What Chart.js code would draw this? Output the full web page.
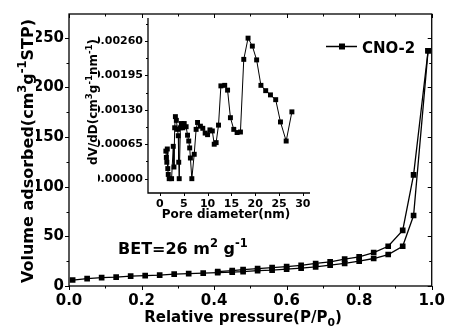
<!DOCTYPE html>
<html>
<head>
<meta charset="utf-8">
<script src="https://cdn.jsdelivr.net/npm/chart.js@4.4.1/dist/chart.umd.min.js"></script>
<style>
  html, body { margin: 0; padding: 0; background: #fff; }
  #wrap { position: relative; width: 451px; height: 332px; }
  #wrap canvas { position: absolute; left: 0; top: 0; }
</style>
</head>
<body>
<div id="wrap">
  <canvas id="main" width="451" height="332"></canvas>
  <canvas id="inset" width="451" height="332"></canvas>
</div>
<script>
const FONT = '"DejaVu Sans", "Liberation Sans", sans-serif';

// N2 isotherm: adsorption branch
const P_ADS = [0.01, 0.05, 0.09, 0.13, 0.17, 0.21, 0.25, 0.29, 0.33, 0.37, 0.41, 0.45, 0.48,
               0.52, 0.56, 0.60, 0.64, 0.68, 0.72, 0.76, 0.80, 0.84, 0.88, 0.92, 0.95, 0.99];
const V_ADS = [6, 7.5, 8.5, 9, 10, 10.5, 11, 12, 12.5, 13, 13.5, 14, 14.5,
               15.5, 16, 17, 18, 19.3, 21, 22.7, 25, 27.7, 31.7, 40, 71, 237];

// N2 isotherm: desorption branch
const P_DES = [0.99, 0.95, 0.92, 0.88, 0.84, 0.80, 0.76, 0.72, 0.68, 0.64, 0.60, 0.56, 0.52, 0.48, 0.45, 0.41];
const V_DES = [237, 112, 56, 40, 33.7, 29.3, 27, 24.3, 22.7, 20.7, 19.5, 18.5, 17.5, 16.5, 15.5, 14.5];

const X_TICKS = [0, 0.2, 0.4, 0.6, 0.8, 1.0];
const Y_TICKS = [0, 50, 100, 150, 200, 250];

// Pore size distribution (inset)
const PORE_D = [1.25, 1.35, 1.45, 1.55, 1.65, 1.75, 1.95, 2.45, 2.8, 2.95, 3.1, 3.25, 3.45, 3.7, 3.85, 3.95, 4.05,
                4.3, 4.5, 4.8, 5.1, 5.5, 5.8, 6.05, 6.25, 6.4, 6.7,
                7.2, 7.6, 7.9, 8.5, 9.0, 9.5, 10.0, 10.5, 11.0, 11.4, 11.8, 12.3,
                12.8, 13.6, 14.2, 14.8, 15.5, 16.2, 16.9, 17.6, 18.5, 19.4, 20.3,
                21.2, 22.2, 23.2, 24.3, 25.3, 26.5, 27.7];
const DVDD = [0.00052, 0.00040, 0.00031, 0.00056, 0.00019, 0.00008, 0.0, 0.0, 0.00061, 0.00022, 0.00096, 0.00117, 0.00110, 0.00093, 0.00081, 0.00031, 0.0,
              0.00096, 0.00104, 0.00096, 0.00104, 0.00098, 0.00082, 0.00071, 0.00058, 0.00039, 0.0,
              0.00046, 0.00093, 0.00106, 0.00099, 0.00095, 0.00086, 0.00083, 0.00092, 0.00090, 0.00065, 0.00068, 0.00101,
              0.00175, 0.00176, 0.00167, 0.00115, 0.00093, 0.00087, 0.00088, 0.00225, 0.00265, 0.00250, 0.00224,
              0.00176, 0.00166, 0.00158, 0.00149, 0.00107, 0.00071, 0.00126];

const INSET_X_TICKS = [0, 5, 10, 15, 20, 25, 30];
const INSET_Y_TICKS = [0, 0.00065, 0.00130, 0.00195, 0.00260];

const SERIES_NAME = 'CNO-2';

function pts(xs, ys) { return xs.map((x, i) => ({ x: x, y: ys[i] })); }
function mids(vals) {
  const out = [];
  for (let i = 0; i < vals.length - 1; i++) out.push((vals[i] + vals[i + 1]) / 2);
  return out;
}

// Text with superscripts / subscripts, optionally rotated to read bottom-to-top
function drawRich(ctx, segs, x, y, size, align, rotated) {
  ctx.save();
  ctx.translate(x, y);
  if (rotated) ctx.rotate(-Math.PI / 2);
  let w = 0;
  const parts = segs.map(s => {
    const fs = (s.sup || s.sub) ? size * 0.72 : size;
    ctx.font = 'bold ' + fs + 'px ' + FONT;
    const m = ctx.measureText(s.t).width;
    const dy = s.sup ? -size * 0.42 : (s.sub ? size * 0.25 : 0);
    w += m;
    return { t: s.t, fs: fs, dy: dy, w: m };
  });
  let cx = align === 'center' ? -w / 2 : 0;
  ctx.fillStyle = '#000';
  ctx.textAlign = 'left';
  ctx.textBaseline = 'alphabetic';
  for (const p of parts) {
    ctx.font = 'bold ' + p.fs + 'px ' + FONT;
    ctx.fillText(p.t, cx, p.dy);
    cx += p.w;
  }
  ctx.restore();
}

function vTicks(ctx, scale, values, xPos, len) {
  for (const v of values) {
    const py = Math.round(scale.getPixelForValue(v)) + 0.5;
    ctx.beginPath(); ctx.moveTo(xPos, py); ctx.lineTo(xPos + len, py); ctx.stroke();
  }
}
function hTicks(ctx, scale, values, yPos, len) {
  for (const v of values) {
    const px = Math.round(scale.getPixelForValue(v)) + 0.5;
    ctx.beginPath(); ctx.moveTo(px, yPos); ctx.lineTo(px, yPos + len); ctx.stroke();
  }
}

const MAJ = 4, MIN = 2.5;

const mainDecor = {
  id: 'mainDecor',
  afterDraw(chart) {
    const { ctx, chartArea: a, scales } = chart;
    const x = scales.x, y = scales.y;
    ctx.save();
    ctx.strokeStyle = '#000';
    ctx.lineWidth = 1.3;
    ctx.strokeRect(a.left, a.top, a.right - a.left, a.bottom - a.top);
    ctx.lineWidth = 1;
    const xMin = mids(X_TICKS), yMin = mids(Y_TICKS).concat([275]).filter(v => v <= y.max);
    // bottom & left: outward
    hTicks(ctx, x, X_TICKS, a.bottom, MAJ);
    hTicks(ctx, x, xMin, a.bottom, MIN);
    vTicks(ctx, y, Y_TICKS, a.left, -MAJ);
    vTicks(ctx, y, yMin, a.left, -MIN);
    // top & right: inward
    hTicks(ctx, x, X_TICKS, a.top, MAJ);
    hTicks(ctx, x, xMin, a.top, MIN);
    vTicks(ctx, y, Y_TICKS, a.right, -MAJ);
    vTicks(ctx, y, yMin, a.right, -MIN);
    ctx.restore();

    // axis titles
    drawRich(ctx, [{ t: 'Relative pressure(P/P' }, { t: '0', sub: true }, { t: ')' }], 243, 322, 15, 'center', false);
    drawRich(ctx, [{ t: 'Volume adsorbed(cm' }, { t: '3', sup: true }, { t: 'g' }, { t: '-1', sup: true }, { t: 'STP)' }],
             33, 151, 16, 'center', true);
    // surface area annotation
    drawRich(ctx, [{ t: 'BET=26 m' }, { t: '2', sup: true }, { t: ' g' }, { t: '-1', sup: true }], 118, 254, 16, 'left', false);

    // legend
    ctx.save();
    ctx.strokeStyle = '#000';
    ctx.lineWidth = 1.5;
    ctx.beginPath(); ctx.moveTo(326, 46.5); ctx.lineTo(357, 46.5); ctx.stroke();
    ctx.fillStyle = '#000';
    ctx.fillRect(339, 43.5, 6, 6);
    ctx.restore();
    drawRich(ctx, [{ t: SERIES_NAME }], 362, 53, 15, 'left', false);
  }
};

const insetDecor = {
  id: 'insetDecor',
  afterDraw(chart) {
    const { ctx, chartArea: a, scales } = chart;
    const x = scales.x, y = scales.y;
    ctx.save();
    ctx.strokeStyle = '#000';
    ctx.lineWidth = 1.3;
    ctx.beginPath();
    ctx.moveTo(a.left, a.top); ctx.lineTo(a.left, a.bottom); ctx.lineTo(a.right, a.bottom);
    ctx.stroke();
    ctx.lineWidth = 1;
    hTicks(ctx, x, INSET_X_TICKS, a.bottom, 3);
    vTicks(ctx, y, INSET_Y_TICKS, a.left, -3);
    vTicks(ctx, y, mids(INSET_Y_TICKS).concat([0.002925]), a.left, -2);
    ctx.restore();
    drawRich(ctx, [{ t: 'Pore diameter(nm)' }], 226, 218, 12, 'center', false);
    drawRich(ctx, [{ t: 'dV/dD(cm' }, { t: '3', sup: true }, { t: 'g' }, { t: '-1', sup: true },
                   { t: 'nm' }, { t: '-1', sup: true }, { t: ')' }], 97, 102, 12, 'center', true);
  }
};

const lineStyle = {
  showLine: true,
  borderColor: '#000',
  backgroundColor: '#000',
  pointStyle: 'rect',
  pointBackgroundColor: '#000',
  pointBorderColor: '#000',
  pointBorderWidth: 0,
  tension: 0
};

new Chart(document.getElementById('main'), {
  type: 'scatter',
  data: {
    datasets: [
      Object.assign({ label: SERIES_NAME, data: pts(P_ADS, V_ADS), borderWidth: 1.3, pointRadius: 4 }, lineStyle),
      Object.assign({ label: SERIES_NAME + ' desorption', data: pts(P_DES, V_DES), borderWidth: 1.3, pointRadius: 4 }, lineStyle)
    ]
  },
  options: {
    responsive: false,
    animation: false,
    devicePixelRatio: 1,
    layout: { padding: { left: 36, right: 15, top: 13, bottom: 21 } },
    plugins: { legend: { display: false }, tooltip: { enabled: false } },
    scales: {
      x: {
        type: 'linear', min: 0, max: 1,
        afterBuildTicks: s => { s.ticks = X_TICKS.map(v => ({ value: v })); },
        afterFit: s => { s.height = 25; },
        grid: { display: false, drawTicks: false },
        border: { display: false },
        ticks: { color: '#000', padding: 6, maxRotation: 0, autoSkip: false,
                 font: { family: FONT, weight: 'bold', size: 15 },
                 callback: v => Number(v).toFixed(1) }
      },
      y: {
        type: 'linear', min: 0, max: 274,
        afterBuildTicks: s => { s.ticks = Y_TICKS.map(v => ({ value: v })); },
        afterFit: s => { s.width = 33; },
        grid: { display: false, drawTicks: false },
        border: { display: false },
        ticks: { color: '#000', padding: 5, autoSkip: false,
                 font: { family: FONT, weight: 'bold', size: 15 },
                 callback: v => String(v) }
      }
    }
  },
  plugins: [mainDecor]
});

new Chart(document.getElementById('inset'), {
  type: 'scatter',
  data: {
    datasets: [
      Object.assign({ label: 'PSD', data: pts(PORE_D, DVDD), borderWidth: 1, pointRadius: 3.5 }, lineStyle)
    ]
  },
  options: {
    responsive: false,
    animation: false,
    devicePixelRatio: 1,
    layout: { padding: { left: 98, right: 141, top: 18, bottom: 119 } },
    plugins: { legend: { display: false }, tooltip: { enabled: false } },
    scales: {
      x: {
        type: 'linear', min: -2.5, max: 31.5,
        afterBuildTicks: s => { s.ticks = INSET_X_TICKS.map(v => ({ value: v })); },
        afterFit: s => { s.height = 20; },
        grid: { display: false, drawTicks: false },
        border: { display: false },
        ticks: { color: '#000', padding: 5, maxRotation: 0, autoSkip: false,
                 font: { family: FONT, weight: 'bold', size: 11 },
                 callback: v => String(v) }
      },
      y: {
        type: 'linear', min: -0.00027, max: 0.00303,
        afterBuildTicks: s => { s.ticks = INSET_Y_TICKS.map(v => ({ value: v })); },
        afterFit: s => { s.width = 50; },
        grid: { display: false, drawTicks: false },
        border: { display: false },
        ticks: { color: '#000', padding: 5, autoSkip: false,
                 font: { family: FONT, weight: 'bold', size: 11 },
                 callback: v => Number(v).toFixed(5) }
      }
    }
  },
  plugins: [insetDecor]
});
</script>
</body>
</html>
